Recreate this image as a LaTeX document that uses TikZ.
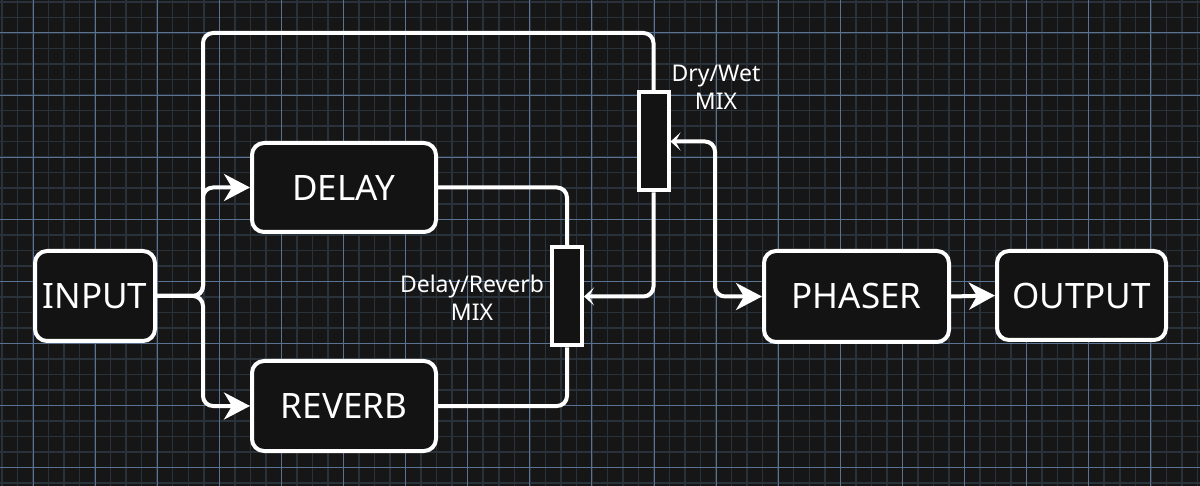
\documentclass[tikz,border=0pt]{standalone}
\usepackage{fontspec}
\setmainfont{Noto Sans}
\usetikzlibrary{arrows.meta}
\definecolor{bg}{HTML}{161616}
\definecolor{minorgrid}{HTML}{29313A}
\definecolor{majorgrid}{HTML}{5A7393}
\definecolor{boxfill}{HTML}{131313}
\begin{document}
\begin{tikzpicture}[x=1pt,y=-1pt,
  blk/.style={draw=white, line width=4pt, fill=boxfill, rounded corners=12pt, text=white, font=\fontsize{35}{40}\selectfont, inner sep=0pt},
  pot/.style={draw=white, line width=4pt, fill=boxfill, minimum width=30pt, minimum height=98pt, inner sep=0pt},
  wire/.style={draw=white, line width=4pt, rounded corners=10pt},
  lbl/.style={text=white, font=\fontsize{23}{28}\selectfont, align=center, inner sep=0pt},
  bigarr/.style={arrows={-Stealth[length=26pt,width=27pt,inset=8pt]}},
  wiparr/.style={arrows={-Stealth[length=10pt,width=18pt,inset=5pt]}},
  bothArr/.style={arrows={Stealth[length=10pt,width=18pt,inset=5pt]-Stealth[length=26pt,width=27pt,inset=8pt]}}]
\useasboundingbox (0,0) rectangle (1200,486);
\clip (0,0) rectangle (1200,486);
\fill[bg] (0,0) rectangle (1200,486);
\foreach \i in {-3,...,78} \draw[minorgrid, line width=1.5pt] ({33+15.525*\i},0) -- ({33+15.525*\i},486);
\foreach \i in {-3,...,32} \draw[minorgrid, line width=1.5pt] (0,{33+15.525*\i}) -- (1200,{33+15.525*\i});
\foreach \i in {-1,...,19} \draw[majorgrid, line width=1pt] ({33+62.1*\i},0) -- ({33+62.1*\i},486);
\foreach \i in {-1,...,8} \draw[majorgrid, line width=1pt] (0,{33+62.1*\i}) -- (1200,{33+62.1*\i});

\node[blk, minimum width=120pt, minimum height=90pt] (in) at (95,296) {INPUT};
\node[blk, minimum width=184pt, minimum height=89pt] (dl) at (344,187.5) {DELAY};
\node[blk, minimum width=184pt, minimum height=90pt] (rv) at (344,406) {REVERB};
\node[blk, minimum width=185pt, minimum height=91pt] (ph) at (856.5,296.5) {PHASER};
\node[blk, minimum width=169pt, minimum height=89pt] (out) at (1081.5,295.5) {OUTPUT};
\node[pot] (p1) at (653.5,141.5) {};
\node[pot] (p2) at (567,296.5) {};
\node[lbl] (l2) at (472,298) {Delay/Reverb\\MIX};
\node[lbl] (l1) at (716,87) {Dry/Wet\\MIX};

\coordinate (j) at (203,296);
\coordinate (tl) at (203,33);
\coordinate (tr) at (653.5,33);
\coordinate (wr) at (715,141.5);

\draw[wire] (in.east) -- (j) -- (tl) -- (tr) -- (p1.north);
\draw[wire] (dl.east) -| (p2.north);
\draw[wire] (rv.east) -| (p2.south);
\draw[wire, bigarr] (in.east) -- (j) |- (dl.west);
\draw[wire, bigarr] (in.east) -- (j) |- (rv.west);
\draw[wire, wiparr] (p1.south) |- (p2.east);
\draw[wire, bothArr] (p1.east) -- (wr) |- (ph.west);
\draw[wire, bigarr] (ph.east) -- (out.west);
\end{tikzpicture}
\end{document}
